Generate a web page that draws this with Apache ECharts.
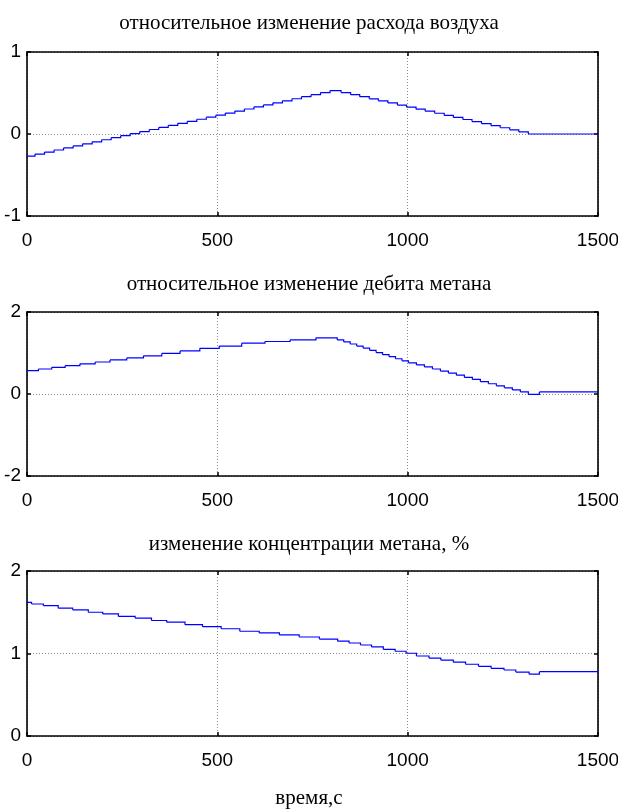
<!DOCTYPE html>
<html><head><meta charset="utf-8">
<script src="https://cdn.jsdelivr.net/npm/echarts/dist/echarts.min.js"></script>
<style>html,body{margin:0;padding:0;background:#fff}#c{width:618px;height:809px}</style>
</head><body><div id="c"></div>
<script>
// ---- data ----
const titles = ['относительное изменение расхода воздуха', 'относительное изменение дебита метана', 'изменение концентрации метана, %'];
const xAxisName = 'время,с';
const xTicks = [0, 500, 1000, 1500];
const yRanges = [[-1, 1, 1], [-2, 2, 2], [0, 2, 1]];

// plot 1: relative change of air flow (step breakpoints)
const time1 = [0, 21, 46, 71, 96, 121, 146, 171, 196, 221, 246, 271, 296, 321, 346, 371, 396, 421, 446, 471, 496, 521, 546, 571, 596, 621, 646, 671, 696, 721, 746, 771, 796,
  825, 850, 874, 899, 923, 948, 973, 997, 1022, 1046, 1071, 1096, 1120, 1145, 1169, 1194, 1219, 1243, 1268, 1292, 1317, 1500];
const values1 = [-0.27, -0.245, -0.22, -0.195, -0.17, -0.145, -0.12, -0.095, -0.07, -0.045, -0.02, 0.005, 0.03, 0.055, 0.08, 0.105, 0.13, 0.155, 0.18, 0.205, 0.23, 0.255, 0.28, 0.305, 0.33, 0.355, 0.38, 0.405, 0.43, 0.455, 0.48, 0.505, 0.53,
  0.505, 0.48, 0.455, 0.429, 0.404, 0.379, 0.353, 0.328, 0.303, 0.278, 0.253, 0.227, 0.202, 0.177, 0.152, 0.126, 0.101, 0.076, 0.051, 0.025, 0, 0];

// plot 2: relative change of methane debit
const time2 = [0, 30, 65, 100, 139, 179, 218, 262, 306, 354, 402, 454, 505, 564, 625, 691, 759,
  815, 832, 849, 866, 883, 900, 917, 934, 951, 968, 985, 1002, 1023, 1044, 1065, 1086, 1107, 1128, 1149, 1170, 1191, 1212, 1233, 1254, 1275, 1296, 1317, 1346, 1500];
const values2 = [0.57, 0.61, 0.65, 0.69, 0.735, 0.78, 0.83, 0.88, 0.93, 0.99, 1.05, 1.115, 1.17, 1.24, 1.28, 1.32, 1.37,
  1.32, 1.27, 1.22, 1.17, 1.12, 1.065, 1.01, 0.96, 0.91, 0.86, 0.81, 0.76, 0.71, 0.66, 0.61, 0.56, 0.51, 0.46, 0.405, 0.355, 0.30, 0.25, 0.20, 0.15, 0.10, 0.05, -0.01, 0.05, 0.05];

// plot 3: change of methane concentration, %
const time3 = [0, 12, 43, 82, 120, 161, 199, 240, 284, 327, 367, 415, 461, 510, 559, 610, 663, 715, 768, 816, 846, 876, 905, 936, 967, 996,
  1023, 1056, 1087, 1120, 1152, 1186, 1219, 1253, 1284, 1319, 1346, 1500];
const values3 = [1.62, 1.60, 1.58, 1.55, 1.53, 1.50, 1.48, 1.45, 1.43, 1.40, 1.38, 1.35, 1.325, 1.30, 1.27, 1.25, 1.225, 1.20, 1.175, 1.15, 1.127, 1.103, 1.08, 1.05, 1.027, 1.003,
  0.97, 0.945, 0.92, 0.895, 0.87, 0.845, 0.82, 0.80, 0.775, 0.75, 0.78, 0.78];

const times = [time1, time2, time3];
const values = [values1, values2, values3];

// zero-order-hold items: [t_k, t_k+1, v_k, v_k+1]
function holdItems(ts, vs) {
  const out = [];
  for (let k = 0; k + 1 < ts.length; k++) {
    const vNext = (k + 2 < ts.length) ? vs[k + 1] : vs[k];
    out.push([ts[k], ts[k + 1], vs[k], vNext]);
  }
  return out;
}

// ---- chart ----
const numFont = "'Liberation Sans', Arial, sans-serif";
const serifFont = "'Liberation Serif', 'Times New Roman', serif";
const grids = [
  {left: 27, top: 52, width: 571, height: 164, outerBoundsMode: 'none', containLabel: false},
  {left: 27, top: 312, width: 571, height: 164, outerBoundsMode: 'none', containLabel: false},
  {left: 27, top: 571, width: 571, height: 165, outerBoundsMode: 'none', containLabel: false}
];
const titleTops = [8, 269, 529];
const border = {show: true, onZero: false, lineStyle: {color: '#000', width: 1.6}};
const tick = {show: true, inside: true, length: 4, lineStyle: {color: '#000', width: 1.5}};
const split = {show: true, lineStyle: {color: '#8c8c8c', type: [1, 2], width: 1}};
const fmt = v => String(v);

const xAxes = [], yAxes = [], series = [], title = [];
for (let i = 0; i < 3; i++) {
  xAxes.push({type: 'value', gridIndex: i, min: xTicks[0], max: xTicks[xTicks.length - 1], interval: xTicks[1] - xTicks[0],
    position: 'bottom', axisLine: border, axisTick: tick, splitLine: split,
    axisLabel: {show: true, color: '#000', fontFamily: numFont, fontSize: 19, margin: 15, formatter: fmt, hideOverlap: false}});
  xAxes.push({type: 'value', gridIndex: i, min: xTicks[0], max: xTicks[xTicks.length - 1], interval: xTicks[1] - xTicks[0],
    position: 'top', axisLine: border, axisTick: tick, splitLine: {show: false}, axisLabel: {show: false}});
  const [mn, mx, iv] = yRanges[i];
  yAxes.push({type: 'value', gridIndex: i, min: mn, max: mx, interval: iv, position: 'left',
    axisLine: border, axisTick: tick, splitLine: split,
    axisLabel: {show: true, color: '#000', fontFamily: numFont, fontSize: 19, margin: 6, formatter: fmt}});
  yAxes.push({type: 'value', gridIndex: i, min: mn, max: mx, interval: iv, position: 'right',
    axisLine: border, axisTick: tick, splitLine: {show: false}, axisLabel: {show: false}});
  series.push({type: 'custom', xAxisIndex: 2 * i, yAxisIndex: 2 * i, clip: true, animation: false,
    encode: {x: [0, 1], y: [2, 3]},
    data: holdItems(times[i], values[i]),
    renderItem: function (params, api) {
      const p0 = api.coord([api.value(0), api.value(2)]);
      const p1 = api.coord([api.value(1), api.value(2)]);
      const p2 = api.coord([api.value(1), api.value(3)]);
      return {type: 'polyline', shape: {points: [p0, p1, p2]},
        style: {stroke: '#0000ff', lineWidth: 1.2, fill: null, lineJoin: 'miter'}};
    }});
  title.push({text: titles[i], left: 'center', top: titleTops[i],
    textStyle: {fontFamily: serifFont, fontWeight: 'normal', fontSize: 21, color: '#000'}});
}
title.push({text: xAxisName, left: 'center', top: 783,
  textStyle: {fontFamily: serifFont, fontWeight: 'normal', fontSize: 21, color: '#000'}});

const chart = echarts.init(document.getElementById('c'), null, {renderer: 'canvas'});
chart.setOption({
  backgroundColor: '#fff',
  animation: false,
  title: title,
  grid: grids,
  xAxis: xAxes,
  yAxis: yAxes,
  series: series
});
</script></body></html>
